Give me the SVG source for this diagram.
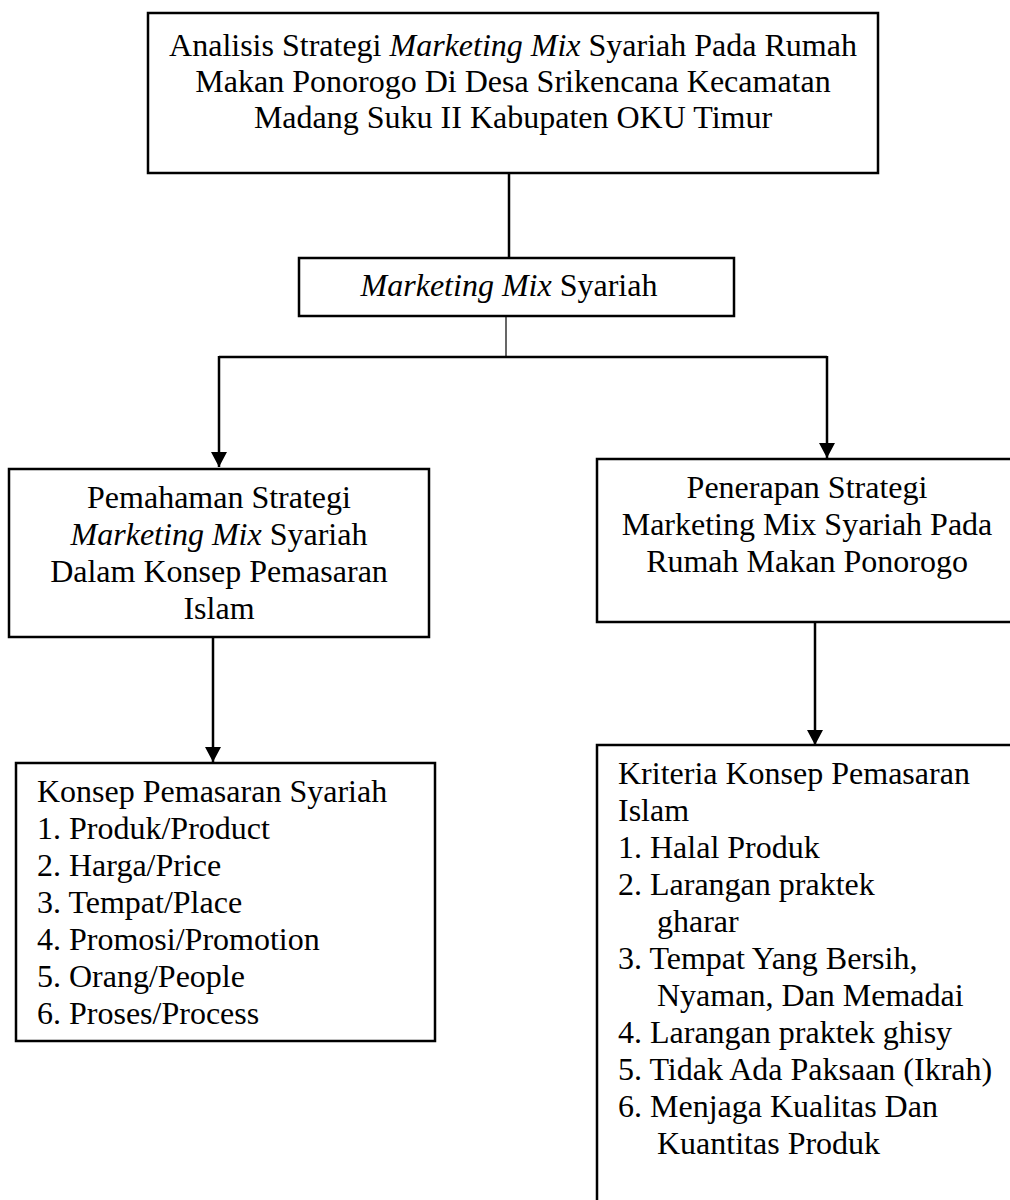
<svg xmlns="http://www.w3.org/2000/svg" width="1010" height="1200" viewBox="0 0 1010 1200">
<style>
.box{fill:#fff;stroke:#000;stroke-width:2.5}
.t{font-family:"Liberation Serif","Times New Roman",serif;font-size:32px;fill:#000}
.c{text-anchor:middle}
.i{font-style:italic}
.ln{stroke:#000;stroke-width:2.5;fill:none}
.thin{stroke:#000;stroke-width:1.2;fill:none}
</style>
<defs>
<marker id="ah" markerWidth="16" markerHeight="16" refX="15" refY="8" orient="auto" markerUnits="userSpaceOnUse">
<path d="M0,0 L15,8 L0,16 Z" fill="#000"/>
</marker>
</defs>
<rect width="1010" height="1200" fill="#fff"/>
<g id="connectors">
<line class="ln" x1="509" y1="173" x2="509" y2="258"/>
<line class="thin" x1="506" y1="316" x2="506" y2="357"/>
<polyline class="ln" points="219,357 827,357"/>
<line class="ln" x1="219" y1="356" x2="219" y2="467" marker-end="url(#ah)"/>
<line class="ln" x1="827" y1="356" x2="827" y2="458" marker-end="url(#ah)"/>
<line class="ln" x1="213" y1="637" x2="213" y2="762" marker-end="url(#ah)"/>
<line class="ln" x1="815" y1="622" x2="815" y2="745" marker-end="url(#ah)"/>
</g>
<g id="node-title">
<rect class="box" x="148" y="13" width="730" height="160"/>
<text class="t c" x="513" y="56">Analisis Strategi <tspan class="i">Marketing Mix</tspan> Syariah Pada Rumah</text>
<text class="t c" x="513" y="92">Makan Ponorogo Di Desa Srikencana Kecamatan</text>
<text class="t c" x="513" y="128">Madang Suku II Kabupaten OKU Timur</text>
</g>
<g id="node-mm">
<rect class="box" x="299" y="258" width="435" height="58"/>
<text class="t c" x="509" y="296"><tspan class="i">Marketing Mix</tspan> Syariah</text>
</g>
<g id="node-pemahaman">
<rect class="box" x="9" y="469" width="420" height="168"/>
<text class="t c" x="219" y="508">Pemahaman Strategi</text>
<text class="t c" x="219" y="545"><tspan class="i">Marketing Mix</tspan> Syariah</text>
<text class="t c" x="219" y="582">Dalam Konsep Pemasaran</text>
<text class="t c" x="219" y="619">Islam</text>
</g>
<g id="node-penerapan">
<rect class="box" x="597" y="459" width="430" height="163"/>
<text class="t c" x="807" y="498">Penerapan Strategi</text>
<text class="t c" x="807" y="535">Marketing Mix Syariah Pada</text>
<text class="t c" x="807" y="572">Rumah Makan Ponorogo</text>
</g>
<g id="node-konsep">
<rect class="box" x="16" y="763" width="419" height="278"/>
<text class="t" x="37" y="802">Konsep Pemasaran Syariah</text>
<text class="t" x="37" y="839">1. Produk/Product</text>
<text class="t" x="37" y="876">2. Harga/Price</text>
<text class="t" x="37" y="913">3. Tempat/Place</text>
<text class="t" x="37" y="950">4. Promosi/Promotion</text>
<text class="t" x="37" y="987">5. Orang/People</text>
<text class="t" x="37" y="1024">6. Proses/Process</text>
</g>
<g id="node-kriteria">
<rect class="box" x="597" y="745" width="430" height="470"/>
<text class="t" x="618" y="784">Kriteria Konsep Pemasaran</text>
<text class="t" x="618" y="821">Islam</text>
<text class="t" x="618" y="858">1. Halal Produk</text>
<text class="t" x="618" y="895">2. Larangan praktek</text>
<text class="t" x="657" y="932">gharar</text>
<text class="t" x="618" y="969">3. Tempat Yang Bersih,</text>
<text class="t" x="657" y="1006">Nyaman, Dan Memadai</text>
<text class="t" x="618" y="1043">4. Larangan praktek ghisy</text>
<text class="t" x="618" y="1080">5. Tidak Ada Paksaan (Ikrah)</text>
<text class="t" x="618" y="1117">6. Menjaga Kualitas Dan</text>
<text class="t" x="657" y="1154">Kuantitas Produk</text>
</g>
</svg>
